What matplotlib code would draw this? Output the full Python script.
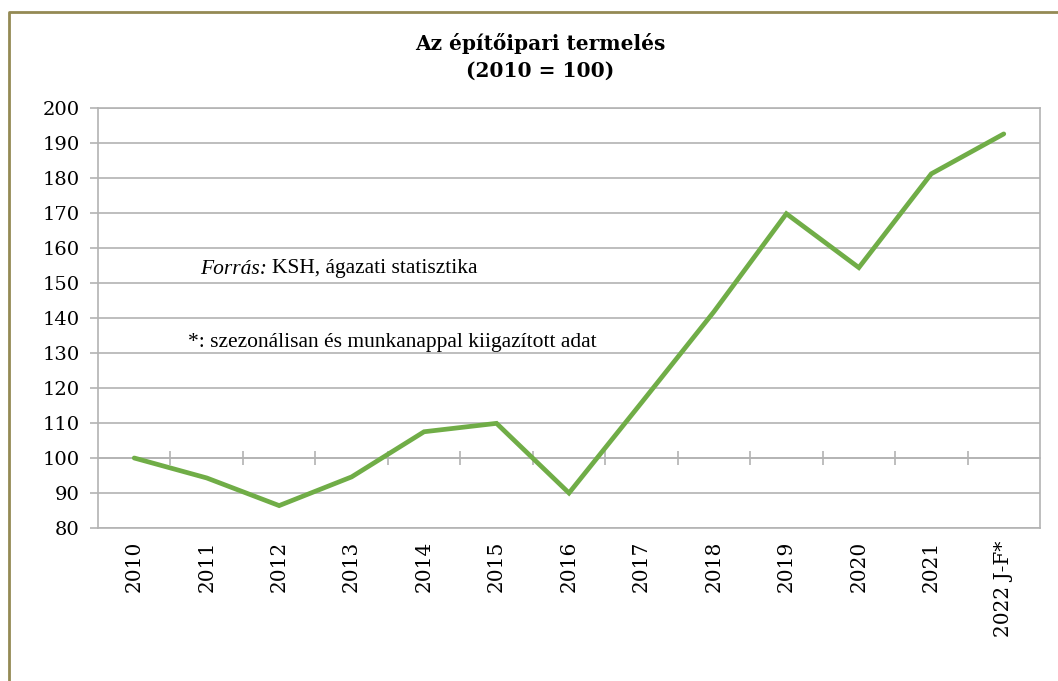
import matplotlib
matplotlib.use("Agg")
import matplotlib.pyplot as plt
from matplotlib.lines import Line2D

# Data (2010 = 100)
years = ["2010", "2011", "2012", "2013", "2014", "2015", "2016",
         "2017", "2018", "2019", "2020", "2021", "2022 J-F*"]
values = [100, 94.3, 86.4, 94.6, 107.5, 109.9, 90.0,
          115.8, 141.8, 169.8, 154.4, 181.2, 192.6]
y_ticks = list(range(80, 201, 10))

title = "Az építőipari termelés\n(2010 = 100)"
grid_col = "#b3b3b3"
line_col = "#70ad47"
frame_col = "#948a54"

W, H = 1058, 681
fig = plt.figure(figsize=(W / 100, H / 100), dpi=100)
ax = fig.add_axes([98 / W, 1 - 528 / H, (1040 - 98) / W, (528 - 108) / H])

x = list(range(len(years)))
ax.plot(x, values, color=line_col, linewidth=3.4, solid_capstyle="round",
        solid_joinstyle="miter", zorder=3)

ax.set_xlim(-0.5, len(years) - 0.5)
ax.set_ylim(80, 200)
ax.set_yticks(y_ticks)
ax.set_yticklabels([str(v) for v in y_ticks], family="DejaVu Serif", fontsize=14)
ax.set_xticks(x)
ax.set_xticklabels(years, rotation=90, family="DejaVu Serif", fontsize=14.5)
ax.tick_params(axis="x", length=0, pad=9)
ax.tick_params(axis="y", length=6, width=1.2, color=grid_col, pad=7)
ax.grid(axis="y", color=grid_col, linewidth=1.2)
ax.set_axisbelow(True)
for s in ax.spines.values():
    s.set_color(grid_col)
    s.set_linewidth(1.2)

# horizontal category axis crossing at 100, with ticks between categories
sec = ax.secondary_xaxis((100 - 80) / (200 - 80))
sec.set_xticks([i + 0.5 for i in range(len(years) - 1)])
sec.set_xticklabels([])
sec.tick_params(length=10, width=1.2, color=grid_col, direction="inout")
sec.spines["bottom"].set_color(grid_col)
sec.spines["bottom"].set_linewidth(1.2)

fig.text(540 / W, 1 - 57 / H, title, ha="center", va="center",
         family="DejaVu Serif", fontweight="bold", fontsize=14.5, linespacing=1.45)

fig.text(200 / W, 1 - 269 / H, "Forrás:", style="italic", family="Liberation Serif",
         fontsize=15.5, va="center")
fig.text(272 / W, 1 - 269 / H, "KSH, ágazati statisztika", family="Liberation Serif",
         fontsize=15.5, va="center")
fig.text(188 / W, 1 - 342 / H, "*: szezonálisan és munkanappal kiigazított adat",
         family="Liberation Serif", fontsize=15.5, va="center")

# olive frame (only top and left edges are visible in the crop)
fig.add_artist(Line2D([9 / W, 9 / W, 1.0], [0, 1 - 12 / H, 1 - 12 / H],
                      transform=fig.transFigure, color=frame_col, linewidth=2))

fig.savefig("out.png", dpi=100)
